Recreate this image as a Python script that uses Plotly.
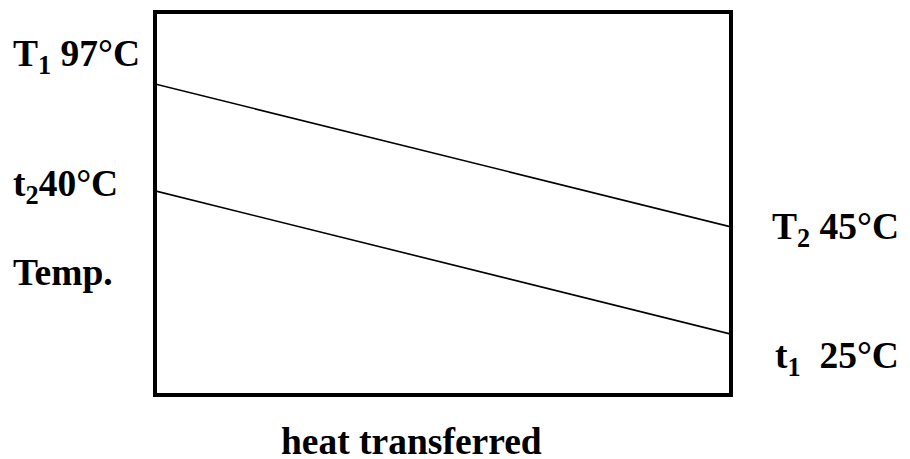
import plotly.graph_objects as go

# Heat exchanger temperature profile (schematic, counter-flow)
heat_frac = [0.0, 1.0]            # fraction of total heat transferred
hot_level = [81.2, 43.9]          # schematic height of the hot stream line
cold_level = [53.3, 15.9]         # schematic height of the cold stream line
hot_temps = [97, 45]              # T1 inlet, T2 outlet (°C)
cold_temps = [40, 25]             # t2 outlet, t1 inlet (°C)

W, H = 910, 459
L, R, T, B = 155, 179, 12, 64
pw, ph = W - L - R, H - T - B


def px(x):
    return (x - L) / pw


def py(y):
    return (H - B - y) / ph


FONT = dict(family="Liberation Serif, Times New Roman, serif", size=37.5, color="black")

fig = go.Figure()
fig.add_trace(go.Scatter(x=heat_frac, y=hot_level, mode="lines",
                         line=dict(color="black", width=1.6), hoverinfo="skip"))
fig.add_trace(go.Scatter(x=heat_frac, y=cold_level, mode="lines",
                         line=dict(color="black", width=1.6), hoverinfo="skip"))

fig.add_shape(type="rect", xref="paper", yref="paper", x0=0, x1=1, y0=0, y1=1,
              line=dict(color="black", width=4))

labels = [
    (f"<b>T<sub>1</sub> {hot_temps[0]}°C</b>", 11, 56, "left"),
    (f"<b>t<sub>2</sub>{cold_temps[0]}°C</b>", 11, 186, "left"),
    ("<b>Temp.</b>", 11, 272, "left"),
    (f"<b>T<sub>2</sub> {hot_temps[1]}°C</b>", 770, 229, "left"),
    (f"<b>t<sub>1</sub>\u00a0\u00a0{cold_temps[1]}°C</b>", 773, 358, "left"),
    ("<b>heat transferred</b>", 411, 441, "center"),
]
for text, x, y, anchor in labels:
    fig.add_annotation(text=text, xref="paper", yref="paper", x=px(x), y=py(y),
                       xanchor=anchor, yanchor="middle", showarrow=False, font=FONT)

fig.update_xaxes(range=[0, 1], visible=False, fixedrange=True)
fig.update_yaxes(range=[0, 100], visible=False, fixedrange=True)
fig.update_layout(width=W, height=H, margin=dict(l=L, r=R, t=T, b=B),
                  showlegend=False, plot_bgcolor="white", paper_bgcolor="white")

fig.write_html("out.html")
